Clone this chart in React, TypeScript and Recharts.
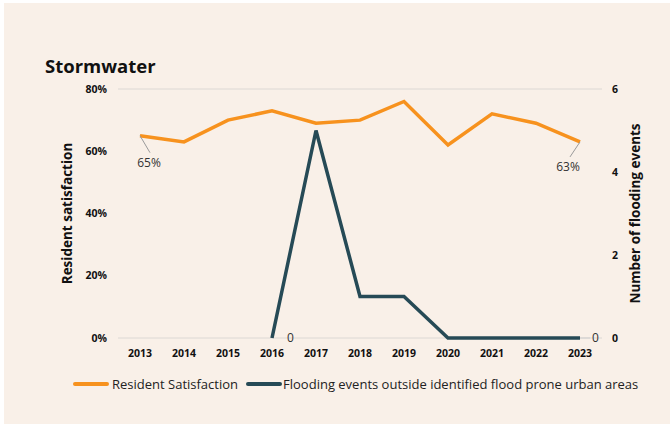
import React from 'react';
import { ComposedChart, Line, XAxis, YAxis, CartesianGrid, LabelList, Label } from 'recharts';

const years = ['2013', '2014', '2015', '2016', '2017', '2018', '2019', '2020', '2021', '2022', '2023'];
const satisfaction = [65, 63, 70, 73, 69, 70, 76, 62, 72, 69, 63];
const floodingEvents: (number | null)[] = [null, null, null, 0, 5, 1, 1, 0, 0, 0, 0];
const leftTicks = [0, 20, 40, 60, 80];
const rightTicks = [0, 2, 4, 6];

const ORANGE = '#F7921E';
const DARK = '#264A56';
const BG = '#F9F0E8';
const FONT = '"Open Sans", Lato, sans-serif';

const data = years.map((year, i) => ({
  year,
  satisfaction: satisfaction[i],
  flooding: floodingEvents[i],
}));

const SatLabel = (props: any) => {
  const { x, y, index, value } = props;
  if (index === 0) {
    return (
      <g>
        <line x1={x} y1={y} x2={x + 10} y2={y + 17} stroke="#9a9a9a" strokeWidth={1} />
        <text x={x + 9} y={y + 31} textAnchor="middle" fontSize={12} fill="#333" fontFamily={FONT}>
          {value}%
        </text>
      </g>
    );
  }
  if (index === years.length - 1) {
    return (
      <g>
        <line x1={x} y1={y} x2={x - 10} y2={y + 15} stroke="#9a9a9a" strokeWidth={1} />
        <text x={x - 12} y={y + 29} textAnchor="middle" fontSize={12} fill="#333" fontFamily={FONT}>
          {value}%
        </text>
      </g>
    );
  }
  return null;
};

const FloodLabel = (props: any) => {
  const { x, y, index, value } = props;
  if (index === 3) {
    return (
      <text x={x + 15} y={y + 4} textAnchor="start" fontSize={12} fill="#333" fontFamily={FONT}>
        {value}
      </text>
    );
  }
  if (index === years.length - 1) {
    return (
      <g>
        <line x1={x} y1={y} x2={x + 10} y2={y} stroke="#cfcfcf" strokeWidth={1} />
        <text x={x + 12} y={y + 4} textAnchor="start" fontSize={12} fill="#333" fontFamily={FONT}>
          {value}
        </text>
      </g>
    );
  }
  return null;
};

const tickStyle = { fontSize: 10.5, fontWeight: 700, fill: '#111', fontFamily: FONT };
const axisLabelStyle = { fontSize: 13.5, fontWeight: 700, fill: '#111', fontFamily: FONT };

const App: React.FC = () => {
  return (
    <div style={{ position: 'absolute', left: 0, top: 0, width: 670, height: 426, background: '#fff' }}>
      <div style={{ position: 'absolute', left: 4, top: 3, width: 666, height: 421, background: BG }} />
      <div
        style={{
          position: 'absolute',
          left: 45,
          top: 53,
          fontFamily: FONT,
          fontWeight: 700,
          fontSize: 18.5,
          color: '#111',
        }}
      >
        Stormwater
      </div>
      <div style={{ position: 'absolute', left: 0, top: 0 }}>
        <ComposedChart width={670} height={426} data={data} margin={{ top: 89, right: 0, bottom: 58, left: 0 }}>
          <CartesianGrid vertical={false} stroke="#dcd8d4" strokeWidth={1} />
          <XAxis
            dataKey="year"
            axisLine={false}
            tickLine={false}
            tick={tickStyle}
            tickMargin={6}
            height={30}
            interval={0}
            padding={{ left: 22, right: 22 }}
          />
          <YAxis
            yAxisId="left"
            domain={[0, 80]}
            ticks={leftTicks}
            tickFormatter={(v: number) => `${v}%`}
            axisLine={false}
            tickLine={false}
            tick={tickStyle}
            tickMargin={5}
            width={118}
          >
            <Label value="Resident satisfaction" angle={-90} position="center" dx={8} style={axisLabelStyle} />
          </YAxis>
          <YAxis
            yAxisId="right"
            orientation="right"
            domain={[0, 6]}
            ticks={rightTicks}
            axisLine={false}
            tickLine={false}
            tick={tickStyle}
            tickMargin={4}
            width={68}
          >
            <Label value="Number of flooding events" angle={-90} position="center" dx={-1} style={axisLabelStyle} />
          </YAxis>
          <Line
            yAxisId="left"
            type="linear"
            dataKey="satisfaction"
            stroke={ORANGE}
            strokeWidth={3.5}
            dot={false}
            activeDot={false}
            isAnimationActive={false}
          >
            <LabelList dataKey="satisfaction" content={SatLabel} />
          </Line>
          <Line
            yAxisId="right"
            type="linear"
            dataKey="flooding"
            stroke={DARK}
            strokeWidth={3.5}
            dot={false}
            activeDot={false}
            connectNulls={false}
            isAnimationActive={false}
          >
            <LabelList dataKey="flooding" content={FloodLabel} />
          </Line>
        </ComposedChart>
      </div>
      <div
        style={{
          position: 'absolute',
          left: 73,
          top: 375,
          display: 'flex',
          alignItems: 'center',
          fontFamily: FONT,
          fontSize: 13,
          color: '#222',
          whiteSpace: 'nowrap',
        }}
      >
        <span style={{ display: 'inline-block', width: 36, height: 4, borderRadius: 2, background: ORANGE, marginRight: 3 }} />
        <span style={{ marginRight: 8 }}>Resident Satisfaction</span>
        <span style={{ display: 'inline-block', width: 36, height: 4, borderRadius: 2, background: DARK, marginRight: 1 }} />
        <span>Flooding events outside identified flood prone urban areas</span>
      </div>
    </div>
  );
};

export default App;
